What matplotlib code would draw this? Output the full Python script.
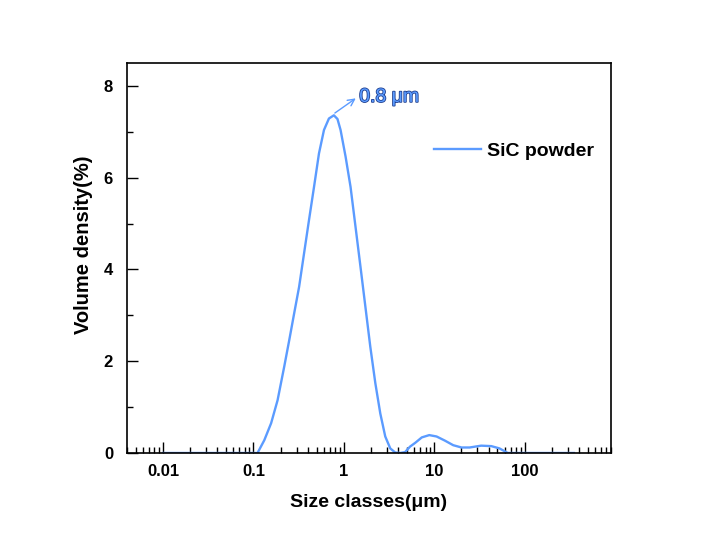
import matplotlib
matplotlib.use('Agg')
import matplotlib.pyplot as plt
import matplotlib.patheffects as pe
from matplotlib.ticker import FixedLocator, LogLocator, NullFormatter

plt.rcParams['font.family'] = ['Liberation Sans', 'DejaVu Sans']

# particle size distribution
size_um = [0.01, 0.05, 0.111, 0.132, 0.157, 0.185, 0.219, 0.249, 0.282, 0.32,
           0.363, 0.412, 0.468, 0.531, 0.603, 0.684, 0.776, 0.85, 0.92, 1.045,
           1.186, 1.346, 1.527, 1.73, 1.96, 2.23, 2.53, 2.87, 3.26, 3.7, 4.2,
           4.76, 5.4, 6.14, 7.28, 8.8, 10.6, 13.1, 16.2, 20, 24.6, 33, 42.7,
           52.6, 65, 100, 350]
volume = [0, 0, 0, 0.28, 0.65, 1.15, 1.88, 2.46, 3.04, 3.62,
          4.35, 5.08, 5.80, 6.53, 7.04, 7.29, 7.36, 7.28, 7.04, 6.46,
          5.80, 4.93, 4.06, 3.19, 2.32, 1.52, 0.86, 0.36, 0.10, 0.01, 0.0,
          0.02, 0.14, 0.22, 0.34, 0.39, 0.36, 0.27, 0.17, 0.12, 0.12, 0.16, 0.15,
          0.10, 0.0, 0, 0]
peak_label = '0.8 μm'
series_name = 'SiC powder'
line_color = '#5b9bff'

fig = plt.figure(figsize=(7.12, 5.47), dpi=100)
ax = fig.add_axes([127 / 712, 1 - 453 / 547, (611 - 127) / 712, (453 - 63) / 547])

ax.plot(size_um, volume, color=line_color, lw=1.7, label=series_name)
ax.set_xscale('log')
ax.set_xlim(0.004, 900)
ax.set_ylim(0, 8.5)

ax.xaxis.set_major_locator(FixedLocator([0.01, 0.1, 1, 10, 100]))
ax.set_xticklabels(['0.01', '0.1', '1', '10', '100'])
ax.xaxis.set_minor_locator(LogLocator(base=10, subs=range(2, 10), numticks=20))
ax.xaxis.set_minor_formatter(NullFormatter())
ax.set_yticks([0, 2, 4, 6, 8])
ax.set_yticks([1, 3, 5, 7], minor=True)

ax.tick_params(which='major', direction='in', length=8, width=1, labelsize=12)
ax.tick_params(axis='y', which='major', pad=10)
ax.tick_params(axis='x', which='major', pad=8)
ax.tick_params(which='minor', direction='in', length=4, width=1)
for lab in ax.get_xticklabels() + ax.get_yticklabels():
    lab.set_fontweight('bold')
for s in ax.spines.values():
    s.set_linewidth(1.2)

ax.set_xlabel('Size classes(μm)', fontsize=14, fontweight='bold', labelpad=11)
ax.set_ylabel('Volume density(%)', fontsize=14.5, fontweight='bold')
ax.yaxis.set_label_coords(-0.07, 0.535)

ax.annotate('', xy=(1.355, 7.73), xytext=(0.796, 7.41),
            arrowprops=dict(arrowstyle='->', color=line_color, lw=1.0,
                            shrinkA=0, shrinkB=0, mutation_scale=12))
ax.text(1.48, 7.75, peak_label, color=line_color, fontsize=14, va='center', ha='left',
        path_effects=[pe.withStroke(linewidth=1.2, foreground='#1f3f8f')])

leg = ax.legend(loc='center left', bbox_to_anchor=(0.619, 0.775), frameon=False,
                fontsize=14, handlelength=2.4, handletextpad=0.3, borderaxespad=0)
for t in leg.get_texts():
    t.set_fontweight('bold')

fig.savefig('out.png', dpi=100)
